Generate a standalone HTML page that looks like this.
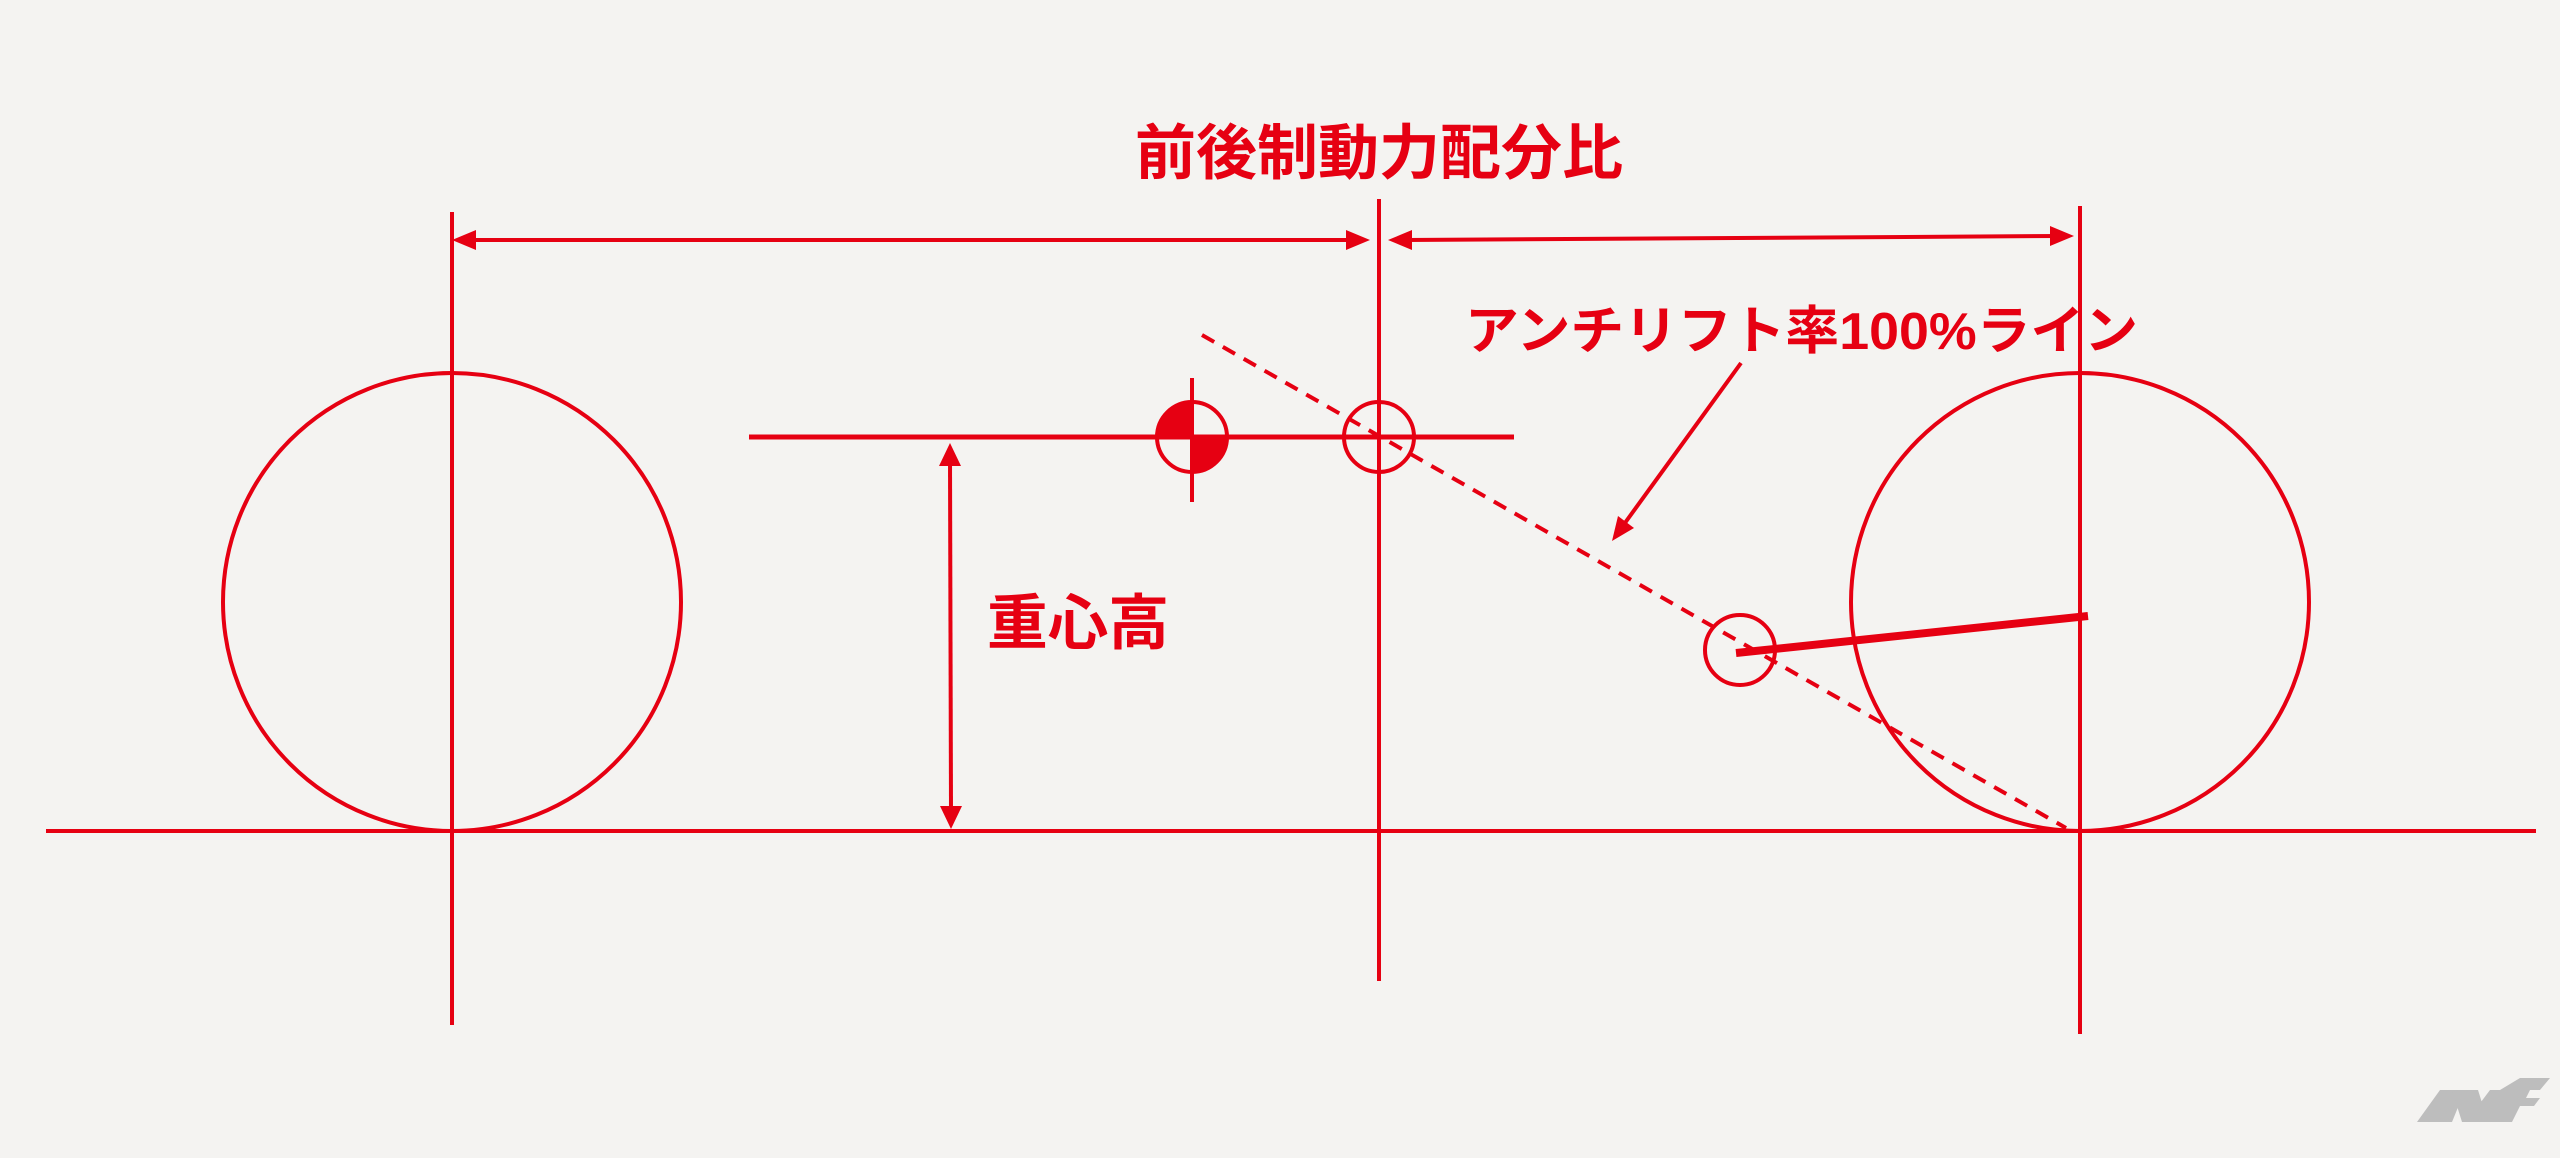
<!DOCTYPE html>
<html><head><meta charset="utf-8"><style>
html,body{margin:0;padding:0;background:#f4f3f1;}
svg{display:block}
text{font-family:"Liberation Sans","Noto Sans CJK JP",sans-serif;font-weight:bold;fill:#e60012;}
</style></head><body>
<svg width="2560" height="1158" viewBox="0 0 2560 1158" xmlns="http://www.w3.org/2000/svg">
<rect width="2560" height="1158" fill="#f4f3f1"/>
<g stroke="#e60012" fill="none" stroke-width="4">
  <!-- ground -->
  <line x1="46" y1="831" x2="2536" y2="831"/>
  <!-- verticals -->
  <line x1="452" y1="212" x2="452" y2="1025"/>
  <line x1="1379" y1="199" x2="1379" y2="981"/>
  <line x1="2080" y1="206" x2="2080" y2="1034"/>
  <!-- wheels -->
  <circle cx="452" cy="602" r="229"/>
  <circle cx="2080" cy="602" r="229"/>
  <!-- CG horizontal -->
  <line x1="749" y1="437" x2="1514" y2="437" stroke-width="5"/>
  <!-- top dims -->
  <line x1="470" y1="240" x2="1352" y2="240"/>
  <line x1="1406" y1="240" x2="2060" y2="236"/>
  <!-- height arrow -->
  <line x1="950" y1="460" x2="951" y2="812"/>
  <!-- CG symbol -->
  <circle cx="1192" cy="437" r="35"/>
  <line x1="1192" y1="378" x2="1192" y2="502"/>
  <!-- mid circle -->
  <circle cx="1379" cy="437" r="35"/>
  <!-- pivot circle -->
  <circle cx="1740" cy="650" r="35"/>
  <!-- dashed anti-lift line -->
  <line x1="1202" y1="335" x2="2066" y2="828" stroke-dasharray="14 10"/>
  <!-- swingarm -->
  <line x1="1736" y1="653" x2="2088" y2="616" stroke-width="8"/>
  <!-- leader -->
  <line x1="1741" y1="363" x2="1622" y2="527"/>
</g>
<g fill="#e60012">
  <path d="M1192 437 L1157 437 A35 35 0 0 1 1192 402 Z"/>
  <path d="M1192 437 L1227 437 A35 35 0 0 1 1192 472 Z"/>
  <!-- arrowheads -->
  <polygon points="452,240 476,230 476,250"/>
  <polygon points="1370,240 1346,230 1346,250"/>
  <polygon points="1388,240 1412,230 1412,250"/>
  <polygon points="2074,236 2050,226 2050,246"/>
  <polygon points="950,443 939,466 961,466"/>
  <polygon points="951,829 940,806 962,806"/>
  <polygon points="1612,541 1618,516 1634,528"/>
</g>
<text x="1379" y="174" font-size="60" text-anchor="middle" textLength="488" lengthAdjust="spacingAndGlyphs">前後制動力配分比</text>
<text x="1465" y="349" font-size="52" textLength="673" lengthAdjust="spacingAndGlyphs">アンチリフト率100%ライン</text>
<text x="987" y="644" font-size="60" textLength="182" lengthAdjust="spacingAndGlyphs">重心高</text>
<!-- logo -->
<g fill="#bdbdbd">
  <polygon points="2417,1122 2440,1090 2465,1090 2452,1122"/>
  <polygon points="2452,1090 2478,1090 2488,1122 2462,1122"/>
  <polygon points="2466,1122 2490,1090 2514,1090 2500,1122"/>
  <polygon points="2500,1090 2520,1078 2550,1078 2540,1090 2530,1090 2526,1098 2540,1098 2534,1106 2520,1106 2512,1122 2492,1122"/>
</g>
</svg>
</body></html>
